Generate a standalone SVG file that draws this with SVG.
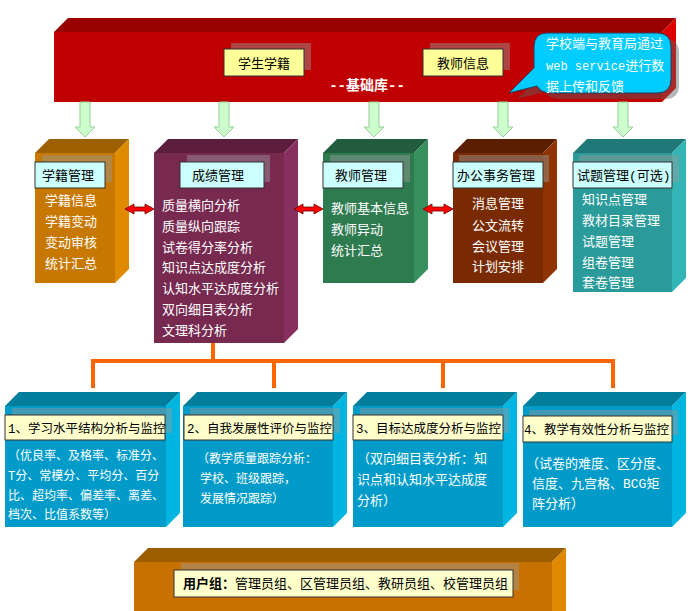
<svg xmlns="http://www.w3.org/2000/svg" width="700" height="611" viewBox="0 0 700 611">
<style>
text{font-family:'Liberation Mono','Noto Sans CJK SC',monospace;}
.w{fill:#fff;font-size:13px;}
.w12{fill:#fff;font-size:12px;}
.k{fill:#000;font-size:13px;}
.k12{fill:#000;font-size:12.5px;}
.lblY{fill:#FFFF99;stroke:#333;stroke-width:1;}
.lblC{fill:#CCFFFF;stroke:#333;stroke-width:1;}
.lblP{fill:#FFFFCC;stroke:#333;stroke-width:1;}
.sh{fill:#9a9a9a;opacity:0.45;}
.garrow{fill:#CCFFCC;stroke:#99CC99;stroke-width:1;}
.darrow{fill:#FF0000;stroke:#660000;stroke-width:0.8;}
.tree{fill:none;stroke:#FF6600;stroke-width:4;}
</style>

<g id="base">
  <polygon points="54,32 68,18 676,18 662,32" fill="#990000"/>
  <rect x="54" y="32" width="608" height="70" fill="#C00000"/>
  <polygon points="662,32 676,18 676,88 662,102" fill="#E00000"/>
  <rect class="sh" x="231" y="43" width="80" height="27"/>
  <rect class="lblY" x="224" y="49" width="80" height="27"/>
  <text class="k" x="264" y="67.5" text-anchor="middle">学生学籍</text>
  <rect class="sh" x="430" y="43" width="80" height="27"/>
  <rect class="lblY" x="423" y="49" width="80" height="27"/>
  <text class="k" x="463" y="67.5" text-anchor="middle">教师信息</text>
  <text x="367" y="90" text-anchor="middle" fill="#fff" font-size="14" font-weight="bold">--基础库--</text>
</g>

<g id="callout">
  <path transform="translate(8,6)" d="M547 33 H657 Q671 33 671 47 V79 Q671 93 657 93 H551 Q541 93 537 86 L509 93 L534 68 V47 Q534 33 547 33 Z" fill="#606060" opacity="0.45"/>
  <path d="M547 33 H657 Q671 33 671 47 V79 Q671 93 657 93 H551 Q541 93 537 86 L509 93 L534 68 V47 Q534 33 547 33 Z" fill="#00CCFF" stroke="#1F3F5F" stroke-width="1"/>
  <text class="w" x="546" y="48">学校端与教育局通过</text>
  <text class="w" x="546" y="70"><tspan font-size="12">web service</tspan>进行数</text>
  <text class="w" x="546" y="91">据上传和反馈</text>
</g>

<g id="xueji">
  <polygon points="35,153 49,139 129,139 115,153" fill="#9C6000"/>
  <rect x="35" y="153" width="80" height="130" fill="#C77800"/>
  <polygon points="115,153 129,139 129,269 115,283" fill="#E08A00"/>
  <rect class="sh" x="42" y="155" width="70" height="27"/>
  <rect class="lblC" x="35" y="162" width="70" height="26"/>
  <text class="k" x="42" y="180">学籍管理</text>
  <text class="w" x="45" y="205">学籍信息</text>
  <text class="w" x="45" y="226">学籍变动</text>
  <text class="w" x="45" y="247">变动审核</text>
  <text class="w" x="45" y="268">统计汇总</text>
</g>

<g id="chengji">
  <polygon points="154,153 168,139 298,139 284,153" fill="#5C1E3C"/>
  <rect x="154" y="153" width="130" height="190" fill="#772950"/>
  <polygon points="284,153 298,139 298,329 284,343" fill="#8A3060"/>
  <rect class="sh" x="187" y="155" width="83" height="27"/>
  <rect class="lblC" x="180" y="162" width="84" height="26"/>
  <text class="k" x="192" y="180">成绩管理</text>
  <text class="w" x="162" y="210">质量横向分析</text>
  <text class="w" x="162" y="231">质量纵向跟踪</text>
  <text class="w" x="162" y="252">试卷得分率分析</text>
  <text class="w" x="162" y="272">知识点达成度分析</text>
  <text class="w" x="162" y="293">认知水平达成度分析</text>
  <text class="w" x="162" y="314">双向细目表分析</text>
  <text class="w" x="162" y="335">文理科分析</text>
</g>

<g id="jiaoshi">
  <polygon points="323,153 337,139 428,139 414,153" fill="#215C3C"/>
  <rect x="323" y="153" width="91" height="130" fill="#2E7B50"/>
  <polygon points="414,153 428,139 428,269 414,283" fill="#38905E"/>
  <rect class="sh" x="330" y="155" width="80" height="27"/>
  <rect class="lblC" x="323" y="162" width="80" height="26"/>
  <text class="k" x="335" y="180">教师管理</text>
  <text class="w" x="331" y="213">教师基本信息</text>
  <text class="w" x="331" y="234">教师异动</text>
  <text class="w" x="331" y="255">统计汇总</text>
</g>

<g id="bangong">
  <polygon points="453,153 467,139 557,139 543,153" fill="#5C1E00"/>
  <rect x="453" y="153" width="90" height="130" fill="#7A2A00"/>
  <polygon points="543,153 557,139 557,269 543,283" fill="#8F3300"/>
  <rect class="sh" x="459" y="155" width="90" height="27"/>
  <rect class="lblC" x="453" y="162" width="90" height="26"/>
  <text class="k" x="457" y="180">办公事务管理</text>
  <text class="w" x="472" y="208">消息管理</text>
  <text class="w" x="472" y="230">公文流转</text>
  <text class="w" x="472" y="251">会议管理</text>
  <text class="w" x="472" y="271">计划安排</text>
</g>

<g id="shiti">
  <polygon points="573,153 587,139 686,139 672,153" fill="#217878"/>
  <rect x="573" y="153" width="99" height="139" fill="#2A9A9A"/>
  <polygon points="672,153 686,139 686,278 672,292" fill="#33B5B5"/>
  <rect class="sh" x="579" y="155" width="100" height="27"/>
  <rect class="lblC" x="573" y="162" width="99" height="26"/>
  <text class="k" x="577" y="180">试题管理(可选)</text>
  <text class="w" x="582" y="204">知识点管理</text>
  <text class="w" x="582" y="225">教材目录管理</text>
  <text class="w" x="582" y="246">试题管理</text>
  <text class="w" x="582" y="267">组卷管理</text>
  <text class="w" x="582" y="287">套卷管理</text>
</g>

<g id="a1">
  <polygon points="5,406 19,392 180,392 166,406" fill="#007E9C"/>
  <rect x="5" y="406" width="161" height="121" fill="#009BC8"/>
  <polygon points="166,406 180,392 180,513 166,527" fill="#00B5E0"/>
  <rect class="sh" x="12" y="408" width="160" height="25"/>
  <rect class="lblP" x="5" y="415" width="160" height="25"/>
  <text class="k12" x="8" y="432.5">1、学习水平结构分析与监控</text>
  <text class="w12" x="8" y="460">（优良率、及格率、标准分、</text>
  <text class="w12" x="8" y="480">T分、常模分、平均分、百分</text>
  <text class="w12" x="8" y="500">比、超均率、偏差率、离差、</text>
  <text class="w12" x="8" y="519">档次、比值系数等）</text>
</g>

<g id="a2">
  <polygon points="183,406 197,392 347,392 333,406" fill="#007E9C"/>
  <rect x="183" y="406" width="150" height="121" fill="#009BC8"/>
  <polygon points="333,406 347,392 347,513 333,527" fill="#00B5E0"/>
  <rect class="sh" x="190" y="408" width="150" height="25"/>
  <rect class="lblP" x="184" y="415" width="149" height="25"/>
  <text class="k12" x="187" y="432.5">2、自我发展性评价与监控</text>
  <text class="w12" x="197" y="463">（教学质量跟踪分析：</text>
  <text class="w12" x="200" y="483">学校、班级跟踪，</text>
  <text class="w12" x="200" y="503">发展情况跟踪）</text>
</g>

<g id="a3">
  <polygon points="353,406 367,392 517,392 503,406" fill="#007E9C"/>
  <rect x="353" y="406" width="150" height="121" fill="#009BC8"/>
  <polygon points="503,406 517,392 517,513 503,527" fill="#00B5E0"/>
  <rect class="sh" x="360" y="408" width="149" height="25"/>
  <rect class="lblP" x="353" y="415" width="150" height="25"/>
  <text class="k12" x="356" y="432.5">3、目标达成度分析与监控</text>
  <text class="w" x="357" y="463">（双向细目表分析：知</text>
  <text class="w" x="357" y="484">识点和认知水平达成度</text>
  <text class="w" x="357" y="505">分析）</text>
</g>

<g id="a4">
  <polygon points="523,406 537,392 686,392 672,406" fill="#007E9C"/>
  <rect x="523" y="406" width="149" height="121" fill="#009BC8"/>
  <polygon points="672,406 686,392 686,513 672,527" fill="#00B5E0"/>
  <rect class="sh" x="529" y="410" width="149" height="25"/>
  <rect class="lblP" x="523" y="416" width="149" height="26"/>
  <text class="k12" x="524" y="433.5">4、教学有效性分析与监控</text>
  <text class="w" x="526" y="468">（试卷的难度、区分度、</text>
  <text class="w" x="532" y="488">信度、九宫格、BCG矩</text>
  <text class="w" x="532" y="508">阵分析）</text>
</g>

<g id="users">
  <polygon points="134,562 148,548 566,548 552,562" fill="#9C5E00"/>
  <rect x="134" y="562" width="418" height="49" fill="#C87000"/>
  <polygon points="552,562 566,548 566,611 552,611" fill="#E08800"/>
  <rect class="sh" x="181" y="563" width="338" height="27"/>
  <rect class="lblP" x="174" y="570" width="339" height="27"/>
  <text class="k" x="183" y="588"><tspan font-weight="bold">用户组：</tspan>管理员组、区管理员组、教研员组、校管理员组</text>
</g>

<g id="connectors">
  <path class="garrow" d="M80 102 H90 V127 H95 L85 137 L75 127 H80 Z"/>
  <path class="garrow" d="M219 102 H229 V127 H234 L224 137 L214 127 H219 Z"/>
  <path class="garrow" d="M369 102 H379 V127 H384 L374 137 L364 127 H369 Z"/>
  <path class="garrow" d="M498 102 H508 V127 H513 L503 137 L493 127 H498 Z"/>
  <path class="garrow" d="M618 102 H628 V127 H633 L623 137 L613 127 H618 Z"/>
  <path class="darrow" d="M125 209 L134 204 L134 207 L145 207 L145 204 L154 209 L145 214 L145 211 L134 211 L134 214 Z"/>
  <path class="darrow" d="M294 209 L303 204 L303 207 L314 207 L314 204 L323 209 L314 214 L314 211 L303 211 L303 214 Z"/>
  <path class="darrow" d="M423 209 L432 204 L432 207 L444 207 L444 204 L453 209 L444 214 L444 211 L432 211 L432 214 Z"/>
  <path class="tree" d="M213 343 V361 M93 388 V361 H613 V388 M274 361 V388 M443 361 V388"/>
</g>
</svg>
